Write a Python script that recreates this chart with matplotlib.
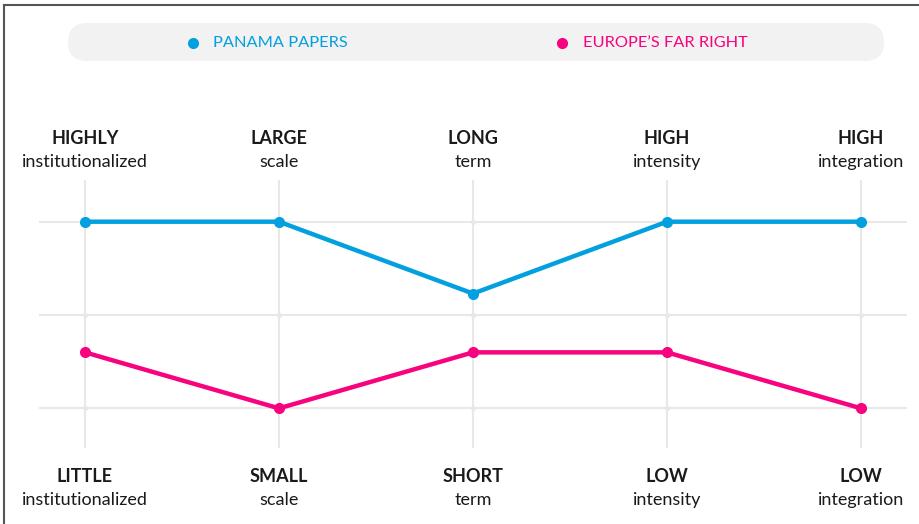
import matplotlib
matplotlib.use("Agg")
import matplotlib.pyplot as plt
import matplotlib.transforms as mtransforms
from matplotlib.patches import FancyBboxPatch
from matplotlib.lines import Line2D

# categories (top / bottom labels)
top_bold = ["HIGHLY", "LARGE", "LONG", "HIGH", "HIGH"]
top_sub = ["institutionalized", "scale", "term", "intensity", "integration"]
bottom_bold = ["LITTLE", "SMALL", "SHORT", "LOW", "LOW"]
bottom_sub = ["institutionalized", "scale", "term", "intensity", "integration"]

# series, scale 1 (low) .. 3 (high)
panama = [3, 3, 2.23, 3, 3]
far_right = [1.6, 1, 1.6, 1.6, 1]
series_names = ["PANAMA PAPERS", "EUROPE\u2019S FAR RIGHT"]

blue = "#03a0e0"
pink = "#f7037f"
grid_c = "#e8e8e8"

plt.rcParams["font.family"] = ["Lato", "DejaVu Sans"]

W, H = 919, 524
fig = plt.figure(figsize=(W / 100, H / 100), dpi=100)
ax = fig.add_axes([39 / W, 1 - 448 / H, (907 - 39) / W, (448 - 180) / H])

xs = list(range(len(top_bold)))
ax.set_xlim(-0.237, 4.237)
ax.set_ylim(0.575, 3.447)
ax.set_xticks(xs)
ax.set_yticks([1, 2, 3])
ax.grid(True, color=grid_c, linewidth=1.5)
ax.tick_params(length=0, labelbottom=False, labelleft=False)
for s in ax.spines.values():
    s.set_visible(False)
ax.set_axisbelow(True)

# little dots at the grid crossings
gx = [x for x in xs for _ in range(3)]
gy = [y for _ in xs for y in (1, 2, 3)]
ax.scatter(gx, gy, s=14, color=grid_c, zorder=1, linewidths=0)

ax.plot(xs, panama, color=blue, lw=3.2, marker="o", ms=7, zorder=3)
ax.plot(xs, far_right, color=pink, lw=3.2, marker="o", ms=7, zorder=3)

# column labels
tr = mtransforms.blended_transform_factory(ax.transData, fig.transFigure)
for i in xs:
    ax.text(i, 1 - 139 / H, top_bold[i], transform=tr, ha="center", va="center",
            fontsize=13, fontweight="bold", color="#1a1a1a")
    ax.text(i, 1 - 162 / H, top_sub[i], transform=tr, ha="center", va="center",
            fontsize=13, color="#1a1a1a")
    ax.text(i, 1 - 477 / H, bottom_bold[i], transform=tr, ha="center", va="center",
            fontsize=13, fontweight="bold", color="#1a1a1a")
    ax.text(i, 1 - 500 / H, bottom_sub[i], transform=tr, ha="center", va="center",
            fontsize=13, color="#1a1a1a")

# legend bar
inch = fig.dpi_scale_trans
box = FancyBboxPatch((0.68, (H - 61) / 100), 8.16, 0.38,
                     boxstyle="round,pad=0,rounding_size=0.19",
                     transform=inch, facecolor="#f2f2f2", edgecolor="none")
fig.add_artist(box)
for dx, tx, c, name in [(1.93, 2.13, blue, series_names[0]),
                        (5.62, 5.83, pink, series_names[1])]:
    fig.add_artist(Line2D([dx], [(H - 43) / 100], marker="o", ms=7, color=c,
                          transform=inch))
    fig.text(tx / (W / 100), 1 - 43 / H, name, ha="left", va="center",
             fontsize=11.8, color=c)

# frame edges (top and left)
fig.add_artist(Line2D([4 / W, 1], [1 - 5 / H, 1 - 5 / H], color="#555555",
                      lw=1.5, transform=fig.transFigure))
fig.add_artist(Line2D([4 / W, 4 / W], [0, 1 - 5 / H], color="#555555",
                      lw=1.5, transform=fig.transFigure))

fig.savefig("out.png", dpi=100, facecolor="white")
